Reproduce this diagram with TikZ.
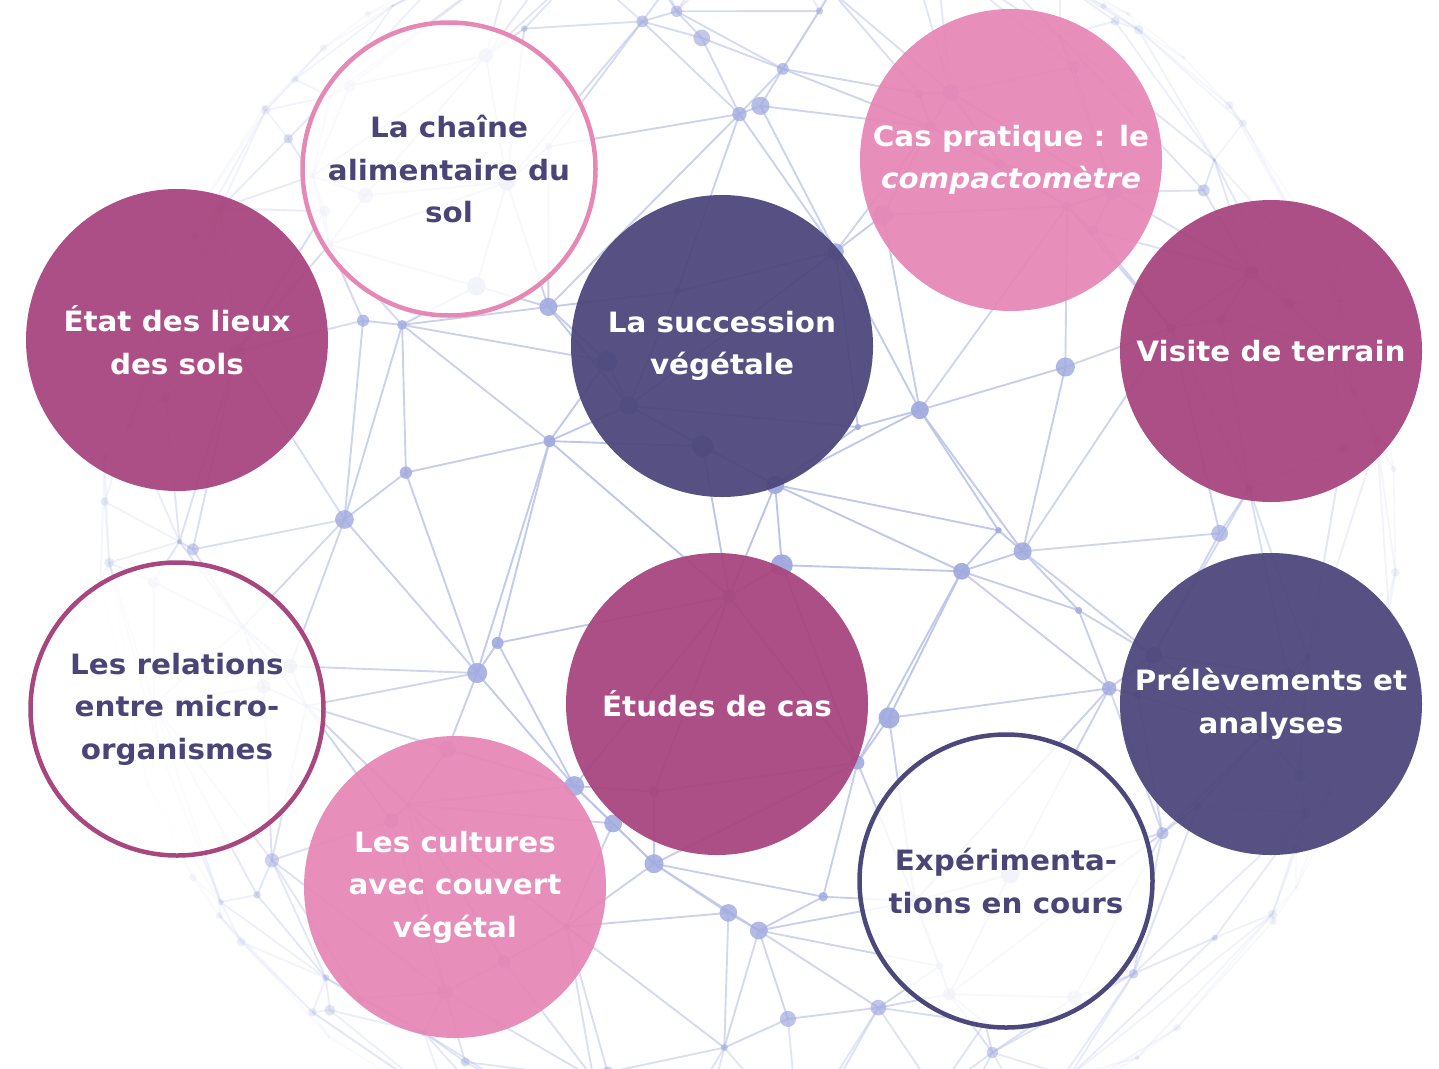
\documentclass[tikz,border=0pt]{standalone}
\usepackage{fontspec}
\setmainfont{DejaVu Sans}[FakeStretch=1.05]
\definecolor{cpurple}{HTML}{A8467F}
\definecolor{cindigo}{HTML}{4D487B}
\definecolor{cpink}{HTML}{E688B6}
\definecolor{ctext}{HTML}{4B4577}
\definecolor{netline}{HTML}{BCC3E8}
\definecolor{netdot}{HTML}{A0AADE}
\tikzset{
  bubble/.style={circle, inner sep=0pt, minimum size=302pt, align=center,
    font=\bfseries\fontsize{28}{42.5}\selectfont, text=white,
    fill opacity=0.95, text opacity=1},
  ring/.style={circle, inner sep=0pt, minimum size=293pt, align=center,
    font=\bfseries\fontsize{28}{42.5}\selectfont, text=ctext,
    draw=#1, line width=4.5pt, fill=white, fill opacity=0.85, draw opacity=1, text opacity=1},
  netedge/.style={draw=netline, line width=1.9pt},
}
\begin{document}
\begin{tikzpicture}[x=1pt,y=-1pt,
  declare function={
    th(\p,\q)=-90+\p*12+5*sin(\p*157+\q*263);
    ph(\p,\q)=-70+\q*11+5*sin(\p*311+\q*97);
    gx(\p,\q)=748+650*cos(ph(\p,\q))*sin(th(\p,\q));
    gy(\p,\q)=540+650*sin(ph(\p,\q));
    dd(\p,\q)=max(cos(ph(\p,\q))*cos(th(\p,\q)),0);
  }]
\useasboundingbox (0,0) rectangle (1439,1068);
% background network globe
\begin{scope}
\clip (0,0) rectangle (1439,1068);
\foreach \i in {0,...,15}{
  \foreach \j in {0,...,13}{
    \pgfmathtruncatemacro\ii{\i+1}
    \pgfmathtruncatemacro\jj{\j+1}
    \pgfmathsetmacro\dA{dd(\i,\j)}
    \ifnum\i<15
      \pgfmathsetmacro\op{0.08+0.9*min(\dA,dd(\ii,\j))}
      \draw[netedge,opacity=\op] ({gx(\i,\j)},{gy(\i,\j)}) -- ({gx(\ii,\j)},{gy(\ii,\j)});
    \fi
    \ifnum\j<13
      \pgfmathsetmacro\op{0.08+0.9*min(\dA,dd(\i,\jj))}
      \draw[netedge,opacity=\op] ({gx(\i,\j)},{gy(\i,\j)}) -- ({gx(\i,\jj)},{gy(\i,\jj)});
      \ifnum\i<15
        \pgfmathtruncatemacro\parity{mod(\i+\j,2)}
        \ifnum\parity=0
          \pgfmathsetmacro\op{0.08+0.9*min(\dA,dd(\ii,\jj))}
          \draw[netedge,opacity=\op] ({gx(\i,\j)},{gy(\i,\j)}) -- ({gx(\ii,\jj)},{gy(\ii,\jj)});
        \else
          \pgfmathsetmacro\op{0.08+0.9*min(dd(\i,\jj),dd(\ii,\j))}
          \draw[netedge,opacity=\op] ({gx(\i,\jj)},{gy(\i,\jj)}) -- ({gx(\ii,\j)},{gy(\ii,\j)});
        \fi
      \fi
    \fi
  }
}
\foreach \i in {0,...,15}{
  \foreach \j in {0,...,13}{
    \pgfmathsetmacro\dA{dd(\i,\j)}
    \pgfmathsetmacro\rr{(3+8*abs(sin(\i*53+\j*131)))*(0.35+0.65*\dA)}
    \pgfmathsetmacro\op{0.1+0.88*\dA}
    \fill[netdot,opacity=\op] ({gx(\i,\j)},{gy(\i,\j)}) circle[radius=\rr];
  }
}
\end{scope}
% topic circles
\node[ring=cpink] (chaine) at (449,169) {La chaîne\\alimentaire du\\sol};
\node[bubble, fill=cpurple] (etat) at (177,340) {État des lieux\\des sols};
\node[bubble, fill=cindigo] (succ) at (722,346) {La succession\\végétale};
\node[bubble, fill=cpink] (cas) at (1011,160) {Cas pratique : le\\\textit{compactomètre}};
\node[bubble, fill=cpurple] (visite) at (1271,351) {Visite de terrain};
\node[ring=cpurple] (rel) at (177,709) {Les relations\\entre micro-\\organismes};
\node[bubble, fill=cpurple] (etudes) at (717,704) {Études de cas};
\node[bubble, fill=cindigo] (prel) at (1271,704) {Prélèvements et\\analyses};
\node[bubble, fill=cpink] (cult) at (455,887) {Les cultures\\avec couvert\\végétal};
\node[ring=cindigo] (exper) at (1006,881) {Expérimenta-\\tions en cours};
\end{tikzpicture}
\end{document}
